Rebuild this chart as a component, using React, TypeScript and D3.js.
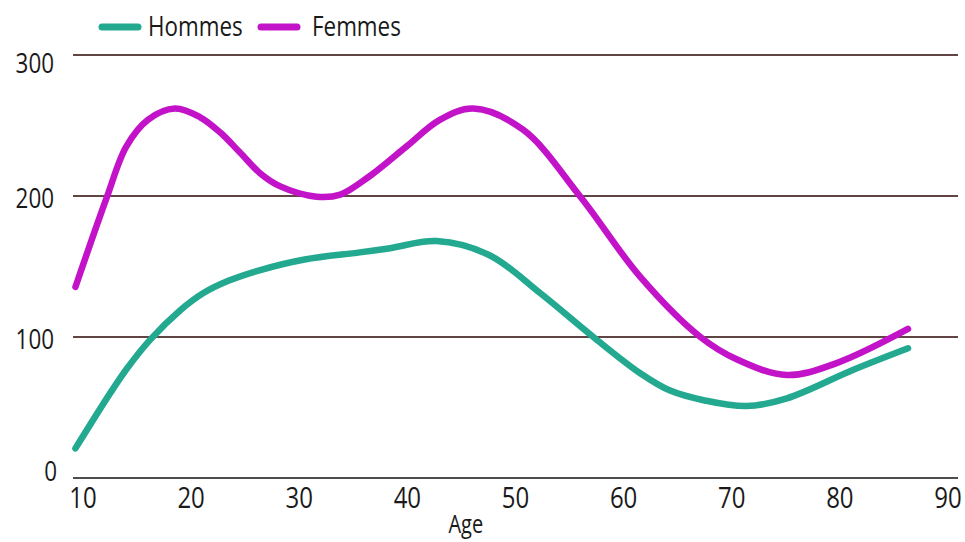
import { useEffect, useRef } from "react";
import * as d3 from "d3";

const hommesAge = [9.3, 12.5, 14.1, 16.2, 19.0, 21.1, 23.5, 26.4, 30.5, 35.6, 38.4, 42.7, 47.6, 52.3, 57.2, 61.5, 64.3, 67.5, 71.4, 75.1, 81.2, 86.3];
const hommesVal = [21, 60, 78, 98, 119, 131, 140, 147.5, 155, 160, 163, 168, 158, 131, 100, 74.5, 62, 55, 51, 56.5, 76.6, 92];

const femmesAge = [9.3, 12.2, 14.0, 16.0, 18.5, 20.8, 22.7, 24.5, 26.4, 28.2, 31.6, 33.8, 36.5, 39.9, 43.0, 46.1, 50.7, 56.0, 61.5, 67.1, 70.5, 75.1, 79.7, 86.3];
const femmesVal = [135.5, 199, 235, 254, 262, 256, 245, 231, 216, 207, 199.5, 201, 214, 235, 254, 262, 247, 199.5, 143, 100, 84, 73, 81.5, 105.7];

const xTicks = [10, 20, 30, 40, 50, 60, 70, 80, 90];
const yTicks = [0, 100, 200, 300];

const series = [
  { name: "Hommes", color: "#22a98f", ages: hommesAge, values: hommesVal },
  { name: "Femmes", color: "#c213c9", ages: femmesAge, values: femmesVal },
];

const FONT = "'Open Sans', sans-serif";
const SX = 0.8; // squeeze to mimic the condensed face

export default function App() {
  const svgRef = useRef<SVGSVGElement>(null);

  useEffect(() => {
    if (!svgRef.current) return;
    const svg = d3.select(svgRef.current);
    svg.selectAll("*").remove();

    const x = d3.scaleLinear().domain([10, 90]).range([83, 948]);
    const y = d3.scaleLinear().domain([0, 300]).range([478, 55]);

    // grid lines
    svg
      .append("g")
      .selectAll("line")
      .data(yTicks)
      .join("line")
      .attr("x1", 73)
      .attr("x2", 958)
      .attr("y1", (d) => y(d))
      .attr("y2", (d) => y(d))
      .attr("stroke", (d) => (d === 0 ? "#141010" : "#2c0606"))
      .attr("stroke-width", 1.6);

    // y labels
    svg
      .append("g")
      .selectAll("text")
      .data(yTicks)
      .join("text")
      .attr(
        "transform",
        (d) =>
          `translate(${d === 0 ? 57 : 54},${d === 0 ? y(d) - 7 : d === 300 ? y(d) + 8 : y(d) + 2}) scale(${SX},1)`,
      )
      .attr("dy", "0.36em")
      .attr("text-anchor", "end")
      .attr("font-family", FONT)
      .attr("font-size", 28)
      .attr("fill", "#1a1a1a")
      .text((d) => d);

    // x labels
    svg
      .append("g")
      .selectAll("text")
      .data(xTicks)
      .join("text")
      .attr("transform", (d) => `translate(${x(d)},508) scale(${SX},1)`)
      .attr("text-anchor", "middle")
      .attr("font-family", FONT)
      .attr("font-size", 30)
      .attr("fill", "#1a1a1a")
      .text((d) => d);

    svg
      .append("text")
      .attr("transform", `translate(${x(45.4)},533) scale(${SX},1)`)
      .attr("text-anchor", "middle")
      .attr("font-family", FONT)
      .attr("font-size", 25)
      .attr("fill", "#1a1a1a")
      .text("Age");

    const line = d3
      .line<[number, number]>()
      .x((d) => x(d[0]))
      .y((d) => y(d[1]))
      .curve(d3.curveCatmullRom.alpha(0.5));

    svg
      .append("g")
      .selectAll("path")
      .data(series)
      .join("path")
      .attr("d", (s) => line(s.ages.map((a, i) => [a, s.values[i]] as [number, number])))
      .attr("fill", "none")
      .attr("stroke", (s) => s.color)
      .attr("stroke-width", 6.5)
      .attr("stroke-linecap", "round")
      .attr("stroke-linejoin", "round");

    // legend
    const legendPos = [
      { sx: 102, tx: 148 },
      { sx: 261, tx: 312 },
    ];
    const lg = svg.append("g");
    series.forEach((s, i) => {
      const p = legendPos[i];
      lg.append("line")
        .attr("x1", p.sx)
        .attr("x2", p.sx + 36)
        .attr("y1", 27)
        .attr("y2", 27)
        .attr("stroke", s.color)
        .attr("stroke-width", 7)
        .attr("stroke-linecap", "round");
      lg.append("text")
        .attr("transform", `translate(${p.tx},36) scale(${SX},1)`)
        .attr("font-family", FONT)
        .attr("font-size", 28)
        .attr("fill", "#1a1a1a")
        .text(s.name);
    });
  }, []);

  return (
    <svg
      ref={svgRef}
      width={965}
      height={542}
      style={{ position: "absolute", left: 0, top: 0, background: "#fff" }}
    />
  );
}
